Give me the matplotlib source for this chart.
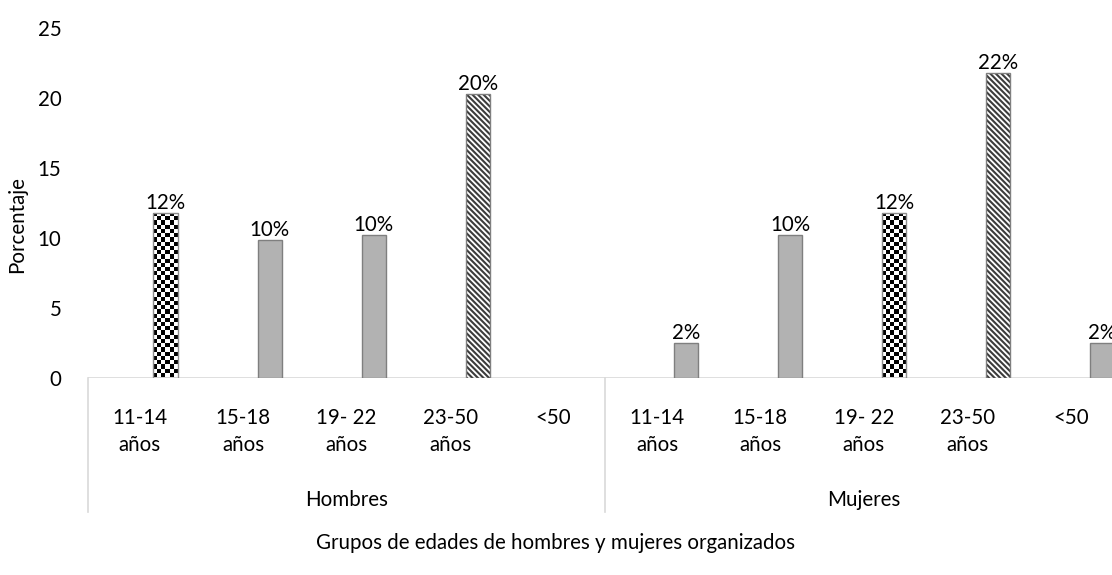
import numpy as np
import matplotlib
matplotlib.use("Agg")
import matplotlib.pyplot as plt
import matplotlib.transforms as mtransforms

# Data
groups = ["Hombres", "Mujeres"]
age_labels = ["11-14\naños", "15-18\naños", "19- 22\naños", "23-50\naños", "<50"]
hombres = [11.8, 9.8, 10.2, 20.3, 0.0]
mujeres = [2.5, 10.2, 11.8, 21.8, 2.5]
hombres_labels = ["12%", "10%", "10%", "20%", ""]
mujeres_labels = ["2%", "10%", "12%", "22%", "2%"]

# Fill style per bar (Hombres then Mujeres)
styles = ["checker", "gray", "gray", "diag", "gray",
          "gray", "gray", "checker", "diag", "gray"]

plt.rcParams["font.family"] = ["Lato", "DejaVu Sans"]
plt.rcParams["hatch.linewidth"] = 1.5
FS = 14.8

W, H = 1112, 575
fig = plt.figure(figsize=(W / 100, H / 100), dpi=100)

cat_px = 103.45
left_px, base_px, top_px = 88, 377.5, 28
ax = fig.add_axes([left_px / W, 1 - base_px / H, 10 * cat_px / W, (base_px - top_px) / H])

values = hombres + mujeres
labels = hombres_labels + mujeres_labels
n = len(values)
bar_x = np.arange(n) * 1.006 + 0.75
bar_w = 0.235

for i, (x, v, lab, st) in enumerate(zip(bar_x, values, labels, styles)):
    if v <= 0:
        continue
    if st == "gray":
        ax.bar(x, v, width=bar_w, color="#b2b2b2", edgecolor="#7f7f7f", linewidth=1.0, zorder=3)
    elif st == "diag":
        ax.bar(x, v, width=bar_w, color="white", edgecolor="#3c3c3c", hatch="\\\\\\\\\\\\",
               linewidth=0, zorder=3)
        ax.bar(x, v, width=bar_w, fill=False, edgecolor="#7f7f7f", linewidth=1.0, zorder=4)
    else:
        b = ax.bar(x, v, width=bar_w, edgecolor="#8c8c8c", linewidth=1.0, zorder=4,
                   fill=False)[0]
        ncol = int(round(bar_w * cat_px / 4.2))
        nrow = int(round(v * 14 / 4.2))
        checker = (np.add.outer(np.arange(nrow), np.arange(ncol)) % 2).astype(float)
        im = ax.imshow(checker, cmap="gray", vmin=0, vmax=1, interpolation="nearest",
                       extent=(x - bar_w / 2, x + bar_w / 2, 0, v), aspect="auto", zorder=3)
        im.set_clip_path(b)
    ax.text(x, v, lab, ha="center", va="bottom", fontsize=FS, color="black", zorder=5)

ax.set_xlim(0, 10)
ax.set_ylim(0, 25)
ax.set_yticks(np.arange(0, 26, 5))
ax.set_xticks(np.arange(n) + 0.5)
ax.set_xticklabels(age_labels * 2, fontsize=FS, linespacing=1.45)
ax.tick_params(axis="x", length=0, pad=22)
ax.tick_params(axis="y", length=0, pad=19, labelsize=FS)
for s in ax.spines.values():
    s.set_visible(False)
ax.axhline(0, color="#d9d9d9", linewidth=1.2, zorder=2)

# group dividers and group names under the tick labels
trans = mtransforms.blended_transform_factory(ax.transData, ax.transAxes)
for gx in [0, 5, 10]:
    ax.plot([gx, gx], [0, -0.386], color="#d9d9d9", linewidth=1.2, transform=trans, clip_on=False)
for gi, g in enumerate(groups):
    ax.text(gi * 5 + 2.5, -0.35, g, ha="center", va="center", fontsize=FS, transform=trans)

fig.text(17 / W, 1 - 225 / H, "Porcentaje", rotation=90, ha="center", va="center", fontsize=FS)
fig.text(556 / W, 1 - 543 / H, "Grupos de edades de hombres y mujeres organizados",
         ha="center", va="center", fontsize=FS)

fig.savefig("out.png", dpi=100)
